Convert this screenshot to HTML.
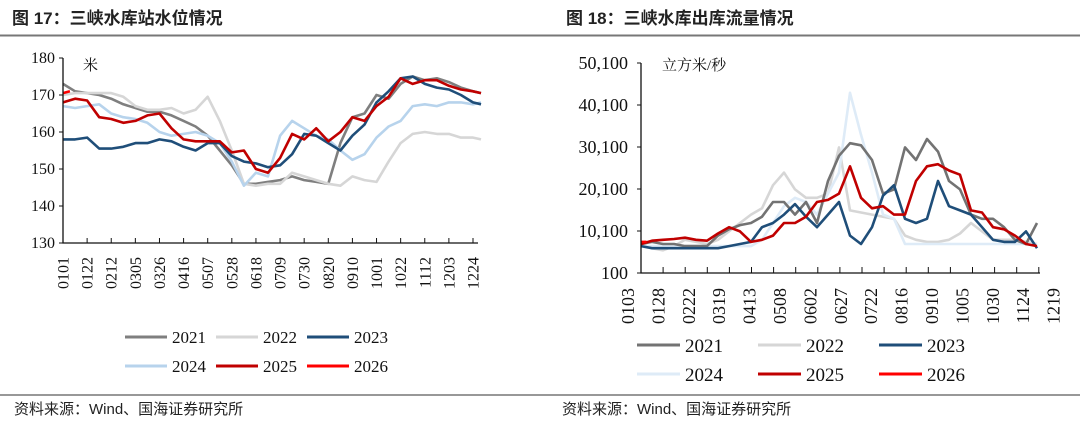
<!DOCTYPE html>
<html><head><meta charset="utf-8">
<style>
html,body{margin:0;padding:0;background:#fff;}
svg{display:block;}
.t{font-family:"Liberation Sans","Noto Sans CJK SC",sans-serif;font-weight:bold;font-size:17px;fill:#222;}
.s{font-family:"Liberation Serif","Noto Serif CJK SC",serif;fill:#111;}
.src{font-family:"Liberation Sans","Noto Sans CJK SC",sans-serif;font-size:15px;fill:#222;}
</style></head>
<body>
<svg id="root" width="1080" height="428" viewBox="0 0 1080 428">
  <text class="t" x="12" y="24">图 17：三峡水库站水位情况</text>
  <text class="t" x="566" y="24">图 18：三峡水库出库流量情况</text>
  <line x1="0" y1="35.5" x2="1080" y2="35.5" stroke="#777" stroke-width="2"/>
  <line x1="0" y1="395" x2="1080" y2="395" stroke="#777" stroke-width="1.5"/>
  <text class="src" x="14" y="414">资料来源：Wind、国海证券研究所</text>
  <text class="src" x="562" y="414">资料来源：Wind、国海证券研究所</text>
  <g id="c1"></g>
  <g id="c2"></g>
</svg>
<script>
// ---- Chart 17 data (water level, m) ----
const lvDays = [0,10.5,21,31.5,42,52.5,63,73.5,84,94.5,105,115.5,126,136.5,147,157.5,168,178.5,189,199.5,210,220.5,231,241.5,252,262.5,273,283.5,294,304.5,315,325.5,336,346.5,357,364];
const lvTickLabels = ["0101","0122","0212","0305","0326","0416","0507","0528","0618","0709","0730","0820","0910","1001","1022","1112","1203","1224"];
const lvTickDays = [0,21,42,63,84,105,126,147,168,189,210,231,252,273,294,315,336,357];
const lvYTicks = [130,140,150,160,170,180];
const lv2021 = [173,171,170.5,170,169,167.5,166.5,165.5,165.5,164.5,163,161.5,159,155,151,146,146,146.5,147,148,147,146.5,146,157,164,165,170,169,173,175,174,174.5,173.5,172,171,170.5];
const lv2022 = [170,170.5,170.5,170.5,170.5,169.5,167,166,166,166.5,165,166,169.5,163,155,146,145.5,146,146,149,148,147,146,145.5,148,147,146.5,152,157,159.5,160,159.5,159.5,158.5,158.5,158];
const lv2023 = [158,158,158.5,155.5,155.5,156,157,157,158,157.5,156,155,157,157,153.5,152,151.5,150.5,151,154,159.5,159,157,155,159,162,168,171,174.5,175,173,172,171.5,170,168,167.5];
const lv2024 = [167,166.5,167,167.5,165,164,163.5,162.5,160,159,159.5,160,159,157,152,145.5,149,148,159,163,161,159,158,155,152.5,154,158.5,161.5,163,167,167.5,167,168,168,167.5,168];
const lv2025 = [168,169,168.5,164,163.5,162.5,163,164.5,165,161,158,157.5,157.5,157.5,154.5,155,150,149,153,159.5,158,161,157.5,160,164,163,167,169.5,174.5,173,174,174,172.5,171.5,171,170.5];
const lv2026Days = [0,6];
const lv2026 = [170.5,171];

// ---- Chart 18 data (outflow, m3/s) ----
const flDays = [3,13,23,33,43,53,63,73,83,93,103,113,123,133,143,153,163,173,183,193,203,213,223,233,243,253,263,273,283,293,303,313,323,333,343,353,363];
const flTickLabels = ["0103","0128","0222","0319","0413","0508","0602","0627","0722","0816","0910","1005","1030","1124","1219"];
const flYTicks = [100,10100,20100,30100,40100,50100];
const fl2021 = [7000,7500,7000,7000,6500,6500,6500,9000,10500,11500,12000,13500,17000,17000,14000,17000,12000,22000,28000,31000,30500,27000,19000,20000,30000,27000,32000,29000,22000,20000,14000,13000,13000,11000,8000,7000,12000];
const fl2022 = [7000,6000,5500,6500,8000,7500,7000,8000,10000,12000,14000,15500,21000,24000,20000,18000,18000,19000,30000,15000,14500,14000,13500,13000,9000,8000,7500,7500,8000,9500,12000,10000,8000,8000,8000,7500,7000];
const fl2023 = [6500,6000,6000,6000,6000,6000,6000,6000,6500,7000,7500,11000,12000,14000,16500,13500,11000,14000,17000,9000,7000,11000,18500,21000,13000,12000,13000,22000,16000,15000,14000,11000,8000,7500,7500,10000,6000];
const fl2024 = [6500,6500,6500,6500,6500,6500,6500,6500,6500,6500,6500,8000,12000,16000,18000,17000,14000,19000,24000,43000,33000,24000,14000,13000,7000,7000,7000,7000,7000,7000,7000,7000,7000,7000,7000,7000,7000];
const fl2025 = [7000,7800,8000,8200,8500,8000,7800,9500,11000,10000,7500,8000,9000,12000,12000,13500,17000,17500,19000,25500,18000,15500,16000,14000,14000,22000,25500,26000,24500,23500,15000,14500,11000,10500,9000,7000,6500];
const fl2026Days = [3,8];
const fl2026 = [7500,7500];

const NS = "http://www.w3.org/2000/svg";
function mk(parent, tag, attrs, text){
  const e = document.createElementNS(NS, tag);
  for (const k in attrs) e.setAttribute(k, attrs[k]);
  if (text !== undefined) e.textContent = text;
  parent.appendChild(e);
  return e;
}
function linePath(xs, ys, sx, sy){
  return xs.map((d,i)=>(i?"L":"M")+sx(d).toFixed(1)+","+sy(ys[i]).toFixed(1)).join("");
}

// ===== Chart 17 =====
(function(){
  const g = document.getElementById("c1");
  const X0=63, X1=478, Y0=243, Y1=58;
  const sx = d => X0 + (d/357)*(473-X0);
  const sy = v => Y0 - (v-130)/50*(Y0-Y1);
  lvYTicks.forEach(v=>{
    const t = mk(g,"text",{x:55,y:sy(v)+5,"text-anchor":"end","font-size":"16",class:"s"},String(v));
    
    
    const l = mk(g,"line",{x1:X0-4,x2:X0,y1:sy(v),y2:sy(v),stroke:"#111","stroke-width":1});
    
    
  });
  const unit = mk(g,"text",{x:83,y:70,"font-size":"15",class:"s"},"米");
  
  
  lvTickDays.forEach((d,i)=>{
    const l = mk(g,"line",{x1:sx(d),x2:sx(d),y1:Y0,y2:Y0-5,stroke:"#111","stroke-width":1});
    
    
    const t = mk(g,"text",{x:0,y:0,"font-size":"16",class:"s","text-anchor":"end",transform:`translate(${sx(d)+5.5},${Y0+14}) rotate(-90)`},lvTickLabels[i]);
    
    
  });
  const series = [
    ["series-2021",lvDays,lv2021,"#7f7f7f"],
    ["series-2022",lvDays,lv2022,"#d6d6d6"],
    ["series-2024",lvDays,lv2024,"#b7d3ec"],
    ["series-2023",lvDays,lv2023,"#1f4e79"],
    ["series-2025",lvDays,lv2025,"#c00000"],
    ["series-2026",lv2026Days,lv2026,"#ff0000"]
  ];
  series.forEach(s=>{
    const p = mk(g,"path",{d:linePath(s[1],s[2],sx,sy),fill:"none",stroke:s[3],"stroke-width":2.6,"stroke-linejoin":"round"});
    
    
  });
  const ax = mk(g,"path",{d:`M${X0},${Y1}V${Y0}H${X1}`,fill:"none",stroke:"#111","stroke-width":1.3});
  
  
  const leg = [["2021","#7f7f7f",0,0],["2022","#d6d6d6",1,0],["2023","#1f4e79",2,0],["2024","#b7d3ec",0,1],["2025","#c00000",1,1],["2026","#ff0000",2,1]];
  leg.forEach(e=>{
    const lx = 125 + e[2]*91, ly = 337 + e[3]*29;
    const grp = mk(g,"g",{});
    
    
    mk(grp,"line",{x1:lx,x2:lx+42,y1:ly,y2:ly,stroke:e[1],"stroke-width":3});
    mk(grp,"text",{x:lx+47,y:ly+6,"font-size":"17",class:"s"},e[0]);
  });
})();

// ===== Chart 18 =====
(function(){
  const g = document.getElementById("c2");
  const X0=641, X1=1040, Y0=273, Y1=63;
  const sx = d => X0 + (d-3)*(1.1);
  const sy = v => Y0 - (v-100)/50000*(Y0-Y1);
  flYTicks.forEach(v=>{
    const t = mk(g,"text",{x:628,y:sy(v)+6,"text-anchor":"end","font-size":"18",class:"s"},v.toLocaleString("en-US"));
    
    
    const l = mk(g,"line",{x1:X0-4,x2:X0,y1:sy(v),y2:sy(v),stroke:"#111","stroke-width":1});
    
    
  });
  const unit = mk(g,"text",{x:662,y:70,"font-size":"15",class:"s"},"立方米/秒");
  
  
  for (let k=1;k<=18;k++){
    const x = X0 + k*22.1;
    const l = mk(g,"line",{x1:x,x2:x,y1:Y0,y2:Y0-6,stroke:"#111","stroke-width":1});
    
    
  }
  flTickLabels.forEach((lab,i)=>{
    const x = 634 + i*30.4;
    const t = mk(g,"text",{x:0,y:0,"font-size":"18",class:"s","text-anchor":"end",transform:`translate(${x},${Y0+15}) rotate(-90)`},lab);
    
    
  });
  const series = [
    ["series-2022",flDays,fl2022,"#d6d6d6"],
    ["series-2024",flDays,fl2024,"#deebf7"],
    ["series-2021",flDays,fl2021,"#737373"],
    ["series-2023",flDays,fl2023,"#1f4e79"],
    ["series-2025",flDays,fl2025,"#c00000"],
    ["series-2026",fl2026Days,fl2026,"#ff0000"]
  ];
  series.forEach(s=>{
    const p = mk(g,"path",{d:linePath(s[1],s[2],sx,sy),fill:"none",stroke:s[3],"stroke-width":2.6,"stroke-linejoin":"round"});
    
    
  });
  const ax = mk(g,"path",{d:`M${X0},${Y1}V${Y0}H${X1}`,fill:"none",stroke:"#111","stroke-width":1.3});
  
  
  const leg = [["2021","#737373",0,0],["2022","#d6d6d6",1,0],["2023","#1f4e79",2,0],["2024","#deebf7",0,1],["2025","#c00000",1,1],["2026","#ff0000",2,1]];
  leg.forEach(e=>{
    const lx = 637 + e[2]*121, ly = 345 + e[3]*29;
    const grp = mk(g,"g",{});
    
    
    mk(grp,"line",{x1:lx,x2:lx+43,y1:ly,y2:ly,stroke:e[1],"stroke-width":3});
    mk(grp,"text",{x:lx+48,y:ly+7,"font-size":"19",class:"s"},e[0]);
  });
})();
</script>
</body></html>
